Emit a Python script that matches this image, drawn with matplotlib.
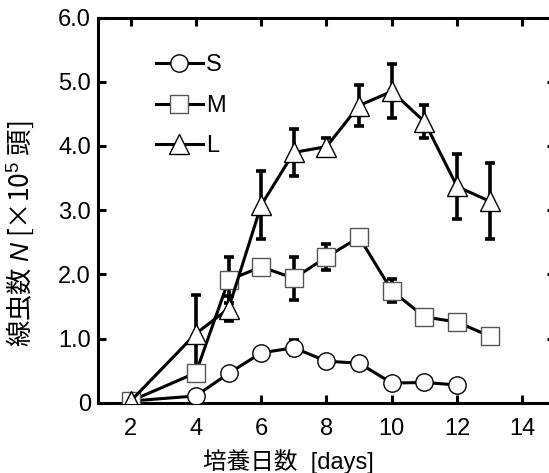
import matplotlib
matplotlib.use("Agg")
import matplotlib.pyplot as plt

plt.rcParams['font.family'] = ['Liberation Sans', 'Noto Sans CJK JP', 'DejaVu Sans']
plt.rcParams['mathtext.fontset'] = 'custom'
plt.rcParams['mathtext.rm'] = 'Liberation Sans'
plt.rcParams['mathtext.it'] = 'Liberation Sans:italic'

# culture days
days_S = [2, 4, 5, 6, 7, 8, 9, 10, 11, 12]
days_M = [2, 4, 5, 6, 7, 8, 9, 10, 11, 12, 13]
days_L = [2, 4, 5, 6, 7, 8, 9, 10, 11, 12, 13]

# nematode count (x10^5)
S = [0.03, 0.11, 0.46, 0.78, 0.86, 0.65, 0.62, 0.31, 0.32, 0.28]
S_err = [0, 0, 0, 0, 0.12, 0, 0, 0, 0, 0]
M = [0.03, 0.47, 1.91, 2.12, 1.94, 2.27, 2.58, 1.75, 1.34, 1.26, 1.04]
M_err = [0, 0.1, 0.36, 0, 0.33, 0.2, 0, 0.18, 0, 0, 0]
L = [0.03, 1.08, 1.47, 3.08, 3.90, 3.99, 4.63, 4.85, 4.38, 3.37, 3.14]
L_err = [0, 0.6, 0.2, 0.53, 0.36, 0.14, 0.32, 0.42, 0.26, 0.5, 0.59]

xticks = [2, 4, 6, 8, 10, 12, 14]
yticks = [0, 1, 2, 3, 4, 5, 6]
ytick_labels = ['0', '1.0', '2.0', '3.0', '4.0', '5.0', '6.0']

fig = plt.figure(figsize=(5.49, 4.73), dpi=100)
ax = fig.add_axes([0.1785, 0.148, 0.8324, 0.815])

series = [
    (days_S, S, S_err, 'o', 'black', 'S'),
    (days_M, M, M_err, 's', '#555555', 'M'),
    (days_L, L, L_err, '^', 'black', 'L'),
]
for x, y, e, mk, mec, lab in series:
    ax.errorbar(x, y, yerr=e, fmt='none', ecolor='black', elinewidth=2.6,
                capsize=3.3, capthick=2.6, zorder=2)
for x, y, e, mk, mec, lab in series:
    ms = 12.5 if mk == 'o' else (13 if mk == 's' else 15)
    ax.plot(x, y, color='black', lw=2.2, marker=mk, ms=ms, mfc='white',
            mec=mec, mew=1.0, label=lab, zorder=3)

ax.set_xlim(1, 15)
ax.set_ylim(0, 6)
ax.set_xticks(xticks)
ax.set_yticks(yticks)
ax.set_yticklabels(ytick_labels)
ax.tick_params(direction='in', length=6, width=2.2, labelsize=17,
               top=True, right=True)
ax.tick_params(axis='x', pad=11)
ax.tick_params(axis='y', pad=5)
for sp in ax.spines.values():
    sp.set_linewidth(2.2)

ax.set_xlabel('培養日数  [days]', fontsize=17,
              family=['Liberation Sans', 'Noto Sans CJK JP'])
ax.xaxis.set_label_coords(0.416, -0.12)
ax.set_ylabel('線虫数 $N$ [×10$^5$ 頭]', fontsize=19,
              family=['Noto Sans CJK JP', 'Liberation Sans'])
ax.yaxis.set_label_coords(-0.135, 0.44)

ax.legend(loc='upper left', bbox_to_anchor=(0.1, 0.935), frameon=False,
          fontsize=17, handlelength=2.0, handletextpad=0.15,
          labelspacing=0.78, borderpad=0)

fig.savefig('out.png', dpi=100)
